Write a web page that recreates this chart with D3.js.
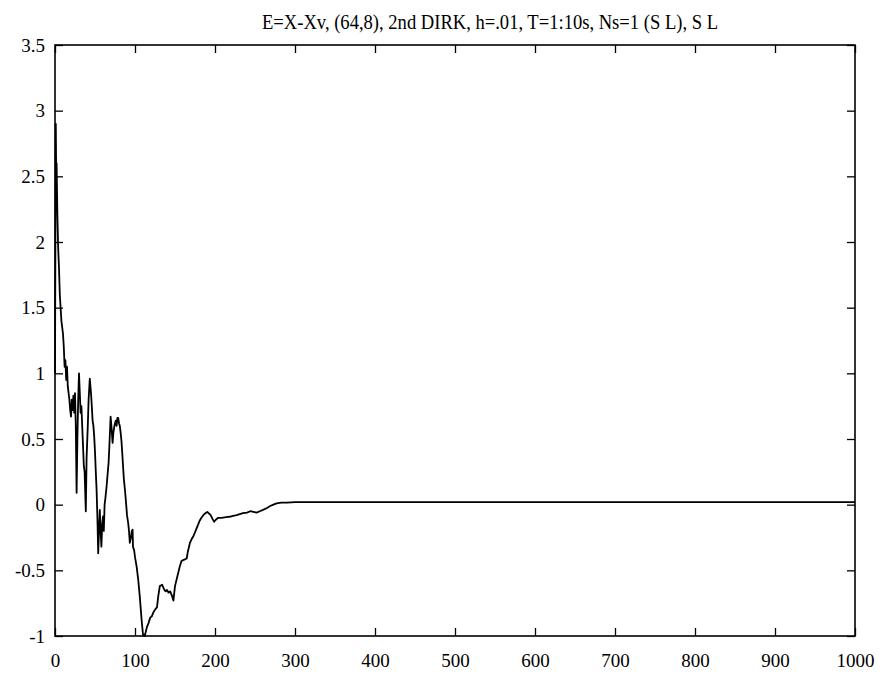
<!DOCTYPE html>
<html>
<head>
<meta charset="utf-8">
<script src="https://cdn.jsdelivr.net/npm/d3@7"></script>
<style>
  body { margin: 0; background: #fff; }
  text { font-family: "Liberation Serif", "Times New Roman", serif; fill: #000; }
</style>
</head>
<body>
<div id="root"></div>
<script>
// time step index and error E = X - Xv
const steps = [
  0, 0.5, 1, 1.5, 2, 3, 4, 5, 6, 7, 8, 9, 10, 11, 12, 13, 14, 15, 16, 17, 18, 19,
  20, 21, 22, 23, 24, 25, 26, 27, 28, 29, 30, 31, 32, 33, 34, 35, 36, 37, 38.5, 39.5,
  41, 42, 43.5, 45, 46, 47, 48, 49, 50, 51, 52, 53, 54, 55, 56, 57, 58, 59,
  60, 61, 62, 63, 64.5, 66, 67, 68, 69.5, 70.5, 72, 73, 74, 75, 76, 77, 78, 79,
  80, 81, 82, 83, 84, 85, 86, 87.5, 89, 90, 91.5, 92.5, 93.5, 95, 96, 97, 97.5, 99,
  100, 102, 104, 106, 107, 108.3, 110, 112, 113, 115, 117, 119, 121, 123, 125, 127.5, 129,
  131, 134, 136, 138, 140, 142, 144, 146, 148, 150, 152, 154, 156, 158, 161, 164.6, 166,
  168.7, 171, 173, 175, 177, 179, 181, 183, 185.4, 188, 190.4, 192, 194.6, 197, 199,
  201, 204, 208, 214, 220, 227, 235, 240, 244, 248, 252, 256, 260, 265, 269, 273, 277,
  283, 290, 300, 320, 1000
];
const errors = [
  1.0, 2.0, 2.9, 2.5, 2.6, 2.2, 1.95, 1.8, 1.6, 1.5, 1.4, 1.35, 1.3, 1.2, 1.05, 1.1, 0.95, 1.05, 0.9, 0.85, 0.8, 0.72,
  0.67, 0.8, 0.72, 0.83, 0.7, 0.85, 0.6, 0.09, 0.5, 0.8, 1.0, 0.85, 0.7, 0.75, 0.6, 0.45, 0.3, 0.25, -0.05, 0.36,
  0.6, 0.8, 0.96, 0.85, 0.75, 0.64, 0.6, 0.52, 0.4, 0.25, 0.11, -0.1, -0.37, -0.2, -0.04, -0.2, -0.32, -0.15,
  -0.09, -0.2, 0.0, 0.05, 0.14, 0.25, 0.32, 0.45, 0.67, 0.6, 0.47, 0.55, 0.59, 0.62, 0.64, 0.6, 0.66, 0.66,
  0.62, 0.6, 0.55, 0.49, 0.4, 0.3, 0.2, 0.11, 0.0, -0.08, -0.14, -0.2, -0.29, -0.25, -0.2, -0.19, -0.32, -0.35,
  -0.4, -0.47, -0.57, -0.7, -0.78, -0.88, -0.99, -1.0, -0.98, -0.93, -0.9, -0.86, -0.85, -0.82, -0.8, -0.78, -0.7,
  -0.62, -0.61, -0.64, -0.66, -0.65, -0.67, -0.66, -0.69, -0.73, -0.62, -0.57, -0.52, -0.47, -0.43, -0.42, -0.41, -0.36,
  -0.29, -0.26, -0.24, -0.21, -0.18, -0.15, -0.12, -0.1, -0.08, -0.065, -0.055, -0.065, -0.08, -0.11, -0.13,
  -0.115, -0.1, -0.1, -0.095, -0.09, -0.08, -0.065, -0.06, -0.05, -0.055, -0.06, -0.05, -0.04, -0.025, -0.01, 0.0, 0.01,
  0.015, 0.015, 0.02, 0.02, 0.02
];

const xTicks = [0, 100, 200, 300, 400, 500, 600, 700, 800, 900, 1000];
const yTicks = [-1, -0.5, 0, 0.5, 1, 1.5, 2, 2.5, 3, 3.5];
const title = "E=X-Xv, (64,8), 2nd DIRK, h=.01, T=1:10s, Ns=1 (S L), S L";

const width = 884;
const height = 673;
const margin = { top: 45, right: 29, bottom: 37, left: 55 };

const x = d3.scaleLinear([0, 1000], [margin.left, width - margin.right]);
const y = d3.scaleLinear([-1, 3.5], [height - margin.bottom, margin.top]);

const svg = d3.select("#root").append("svg")
  .attr("width", width)
  .attr("height", height);

const tickLen = 8;
const tickFmt = d => String(d);

// bottom axis with labels, ticks pointing inwards
svg.append("g")
  .attr("transform", `translate(0, ${y(-1)})`)
  .call(d3.axisBottom(x).tickValues(xTicks).tickFormat(tickFmt)
    .tickSizeInner(-tickLen).tickSizeOuter(0).tickPadding(18))
  .call(g => g.selectAll("text").attr("font-size", 19));

svg.append("g")
  .attr("transform", `translate(0, ${y(3.5)})`)
  .call(d3.axisTop(x).tickValues(xTicks).tickFormat("")
    .tickSizeInner(-tickLen).tickSizeOuter(0));

svg.append("g")
  .attr("transform", `translate(${x(0)}, 0)`)
  .call(d3.axisLeft(y).tickValues(yTicks).tickFormat(tickFmt)
    .tickSizeInner(-tickLen).tickSizeOuter(0).tickPadding(10))
  .call(g => g.selectAll("text").attr("font-size", 19));

svg.append("g")
  .attr("transform", `translate(${x(1000)}, 0)`)
  .call(d3.axisRight(y).tickValues(yTicks).tickFormat("")
    .tickSizeInner(-tickLen).tickSizeOuter(0));

svg.selectAll(".domain").remove();
svg.selectAll(".tick line").attr("stroke", "#000").attr("stroke-width", 1.3);

svg.append("rect")
  .attr("x", x(0))
  .attr("y", y(3.5))
  .attr("width", x(1000) - x(0))
  .attr("height", y(-1) - y(3.5))
  .attr("fill", "none")
  .attr("stroke", "#000")
  .attr("stroke-width", 1.6);

const line = d3.line()
  .x((d, i) => x(steps[i]))
  .y(d => y(d));

svg.append("path")
  .datum(errors)
  .attr("fill", "none")
  .attr("stroke", "#000")
  .attr("stroke-width", 1.8)
  .attr("stroke-linejoin", "round")
  .attr("d", line);

svg.append("text")
  .attr("x", 490)
  .attr("y", 29)
  .attr("text-anchor", "middle")
  .attr("font-size", 20)
  .attr("textLength", 456)
  .attr("lengthAdjust", "spacingAndGlyphs")
  .text(title);
</script>
</body>
</html>
